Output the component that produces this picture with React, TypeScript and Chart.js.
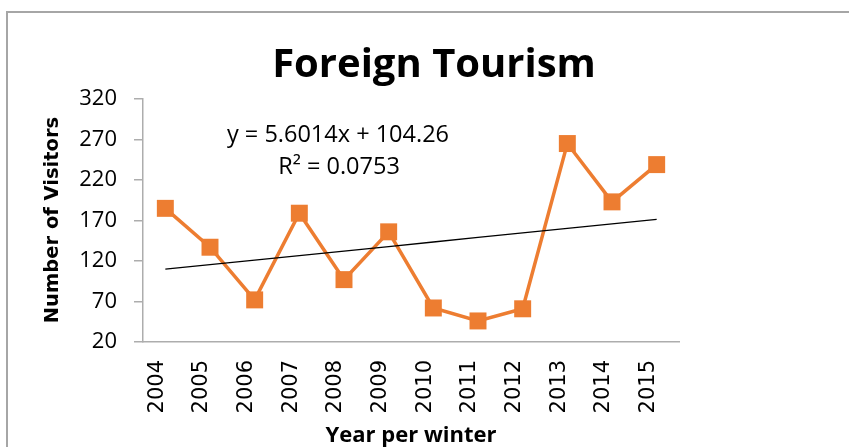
import React, { useEffect, useRef } from "react";
import { Chart, registerables } from "chart.js";

Chart.register(...registerables);

const years = ["2004", "2005", "2006", "2007", "2008", "2009", "2010", "2011", "2012", "2013", "2014", "2015"];
const visitors = [185, 137, 72, 179, 97, 156, 62, 46, 61, 265, 193, 239];
const trendSlope = 5.6014;
const trendIntercept = 104.26;
const trendValues = years.map((_, i) => trendSlope * (i + 1) + trendIntercept);
const yTicks = [20, 70, 120, 170, 220, 270, 320];
const titleText = "Foreign Tourism";
const yTitle = "Number of Visitors";
const xTitle = "Year per winter";
const eqLine1 = "y = 5.6014x + 104.26";
const eqLine2 = "R\u00B2 = 0.0753";

const ORANGE = "#ED7D31";
const AXIS = "#ADADAD";

const decorPlugin = {
  id: "decor",
  beforeDraw(chart: any) {
    const ctx = chart.ctx;
    ctx.save();
    ctx.fillStyle = "#ffffff";
    ctx.fillRect(0, 0, chart.width, chart.height);
    ctx.strokeStyle = "#A6A6A6";
    ctx.lineWidth = 2;
    ctx.beginPath();
    ctx.moveTo(7, chart.height + 5);
    ctx.lineTo(7, 12);
    ctx.lineTo(chart.width + 5, 12);
    ctx.stroke();
    ctx.restore();
  },
  afterDraw(chart: any) {
    const ctx = chart.ctx;
    ctx.save();
    ctx.fillStyle = "#000000";
    ctx.textAlign = "center";
    ctx.textBaseline = "alphabetic";
    ctx.font = "bold 40px 'Open Sans'";
    ctx.fillText(titleText, 434, 77);
    ctx.font = "23.5px 'Open Sans'";
    ctx.fillText(eqLine1, 338, 142);
    ctx.fillText(eqLine2, 339, 174);
    ctx.font = "bold 22px 'Open Sans'";
    ctx.fillText(xTitle, 411, 442);
    ctx.save();
    ctx.translate(53, 220);
    ctx.rotate(-Math.PI / 2);
    ctx.textBaseline = "middle";
    ctx.font = "bold 19.5px 'DejaVu Sans'";
    ctx.fillText(yTitle, 0, 0);
    ctx.restore();
    ctx.restore();
  },
};

export default function App() {
  const ref = useRef<HTMLCanvasElement | null>(null);
  useEffect(() => {
    if (!ref.current) return;
    const chart = new Chart(ref.current, {
      type: "line",
      data: {
        labels: years,
        datasets: [
          {
            label: "Visitors",
            data: visitors,
            borderColor: ORANGE,
            backgroundColor: ORANGE,
            borderWidth: 3.5,
            pointStyle: "rect",
            pointRadius: 12,
            pointBorderWidth: 0,
            pointBackgroundColor: ORANGE,
            tension: 0,
            order: 2,
          },
          {
            label: "Trend",
            data: trendValues,
            borderColor: "#000000",
            borderWidth: 1.3,
            pointRadius: 0,
            tension: 0,
            order: 1,
          },
        ],
      },
      options: {
        responsive: false,
        animation: false,
        layout: { padding: { left: 0, top: 99, right: 170, bottom: 0 } },
        plugins: {
          legend: { display: false },
          title: { display: false },
          tooltip: { enabled: false },
        },
        scales: {
          x: {
            type: "category",
            offset: true,
            grid: { display: false, drawTicks: false },
            border: { display: true, color: AXIS, width: 1.5 },
            ticks: {
              minRotation: 90,
              maxRotation: 90,
              padding: 18,
              labelOffset: -8,
              color: "#000000",
              font: { family: "'DejaVu Sans'", size: 21 },
            },
            afterFit(scale: any) {
              scale.height = 105;
            },
          },
          y: {
            min: 20,
            max: 320,
            afterBuildTicks(scale: any) {
              scale.ticks = yTicks.map((v) => ({ value: v }));
            },
            grid: { display: true, drawOnChartArea: false, drawTicks: true, tickLength: 9, color: AXIS, lineWidth: 1.5 },
            border: { display: true, color: AXIS, width: 1.5 },
            ticks: {
              padding: 17,
              color: "#000000",
              font: { family: "'Open Sans'", size: 22 },
            },
            afterFit(scale: any) {
              scale.width = 143;
            },
          },
        },
      },
      plugins: [decorPlugin],
    });
    return () => chart.destroy();
  }, []);
  return (
    <div style={{ width: 841, height: 439 }}>
      <canvas
        ref={ref}
        width={849}
        height={447}
        style={{ position: "fixed", left: 0, top: 0, width: 849, height: 447 }}
      />
    </div>
  );
}
